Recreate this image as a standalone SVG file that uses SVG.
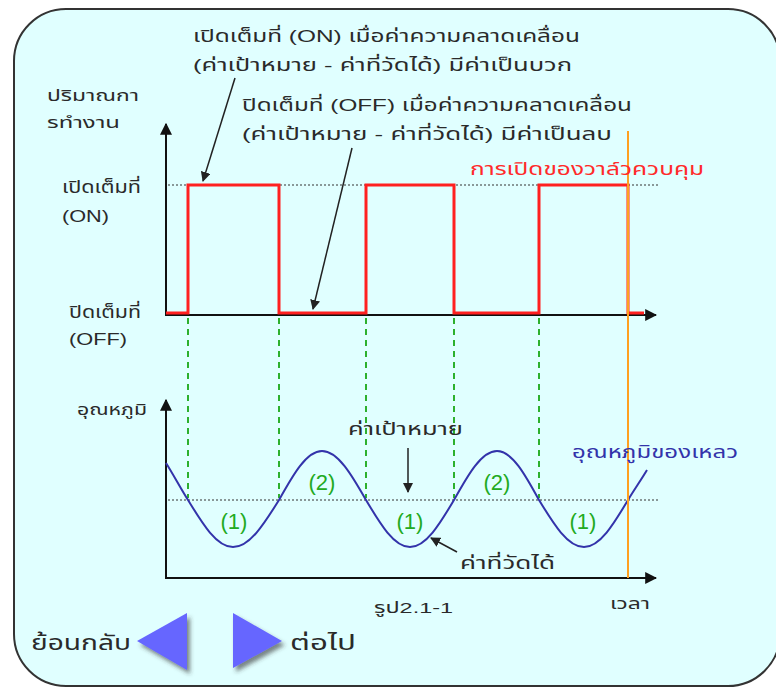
<svg xmlns="http://www.w3.org/2000/svg" width="776" height="687" viewBox="0 0 776 687">
<style>
text{font-family:"Liberation Sans","Noto Sans Thai","Noto Sans","DejaVu Sans",sans-serif;fill:#2a2a2a;}
.t{font-size:17px;}
.s{font-size:15px;}
.red{fill:#ff2a2a;font-size:18px;}
.blue{fill:#3333aa;font-size:18px;}
.g{fill:#22aa22;font-size:22px;text-anchor:middle;}
.axis{stroke:#111;stroke-width:2;fill:none;}
.dot{stroke:#333;stroke-width:1.2;stroke-dasharray:2 2;fill:none;}
.gd{stroke:#2db02d;stroke-width:2;stroke-dasharray:6 5;fill:none;}
.ptr{stroke:#222;stroke-width:1.5;fill:none;}
.btn{fill:#6666ff;}
</style>
<defs>
<marker id="ah" viewBox="0 0 10 10" refX="9" refY="5" markerWidth="12" markerHeight="12" markerUnits="userSpaceOnUse" orient="auto"><path d="M0,0 L10,5 L0,10 z" fill="#111"/></marker>
<marker id="ahs" viewBox="0 0 10 10" refX="9" refY="5" markerWidth="10" markerHeight="10" markerUnits="userSpaceOnUse" orient="auto"><path d="M0,0 L10,5 L0,10 z" fill="#222"/></marker>
<filter id="sh" x="-30%" y="-30%" width="170%" height="170%"><feDropShadow dx="3" dy="4" stdDeviation="2" flood-color="#333" flood-opacity="0.6"/></filter>
</defs>
<rect x="0" y="0" width="776" height="687" fill="#ffffff"/>
<rect id="frame" x="14" y="9" width="766" height="677" rx="52" ry="52" fill="#e0ffff" stroke="#333" stroke-width="2"/>

<g id="connectors">
<line class="axis" x1="166" y1="316" x2="166" y2="124" marker-end="url(#ah)"/>
<line class="axis" x1="166" y1="315" x2="656" y2="315" marker-end="url(#ah)"/>
<line class="dot" x1="168" y1="185" x2="660" y2="185"/>
<line class="gd" x1="188" y1="318" x2="188" y2="498"/>
<line class="gd" x1="279" y1="318" x2="279" y2="498"/>
<line class="gd" x1="366" y1="318" x2="366" y2="498"/>
<line class="gd" x1="454" y1="318" x2="454" y2="498"/>
<line class="gd" x1="539" y1="318" x2="539" y2="498"/>
<path d="M166,313 H188 V185 H279 V313 H366 V185 H454 V313 H539 V185 H628 V313 H644" fill="none" stroke="#ff2020" stroke-width="3"/>
<line class="axis" x1="166" y1="579" x2="166" y2="400" marker-end="url(#ah)"/>
<line class="axis" x1="166" y1="578" x2="656" y2="578" marker-end="url(#ah)"/>
<line class="dot" x1="168" y1="500" x2="660" y2="500"/>
<path d="M166,463 C173,474 181,489 188,500 C202.7,524.1 216.7,547 233,547 C249.6,547 264,524.1 279,500 C293,474.9 306.4,451 322,451 C337.9,451 351.7,474.9 366,500 C380.3,524.1 394.1,547 410,547 C425.9,547 439.7,524.1 454,500 C468,474.9 481.4,451 497,451 C512.2,451 525.3,474.9 539,500 C553.7,524.1 567.7,547 584,547 C599.9,547 613.7,524.1 628,500 C634,490 641,480 647,470" fill="none" stroke="#3333aa" stroke-width="2"/>
<line x1="628" y1="131" x2="628" y2="578" stroke="#ffa020" stroke-width="2"/>
<line class="ptr" x1="235" y1="78" x2="203" y2="181" marker-end="url(#ahs)"/>
<line class="ptr" x1="352" y1="148" x2="313" y2="309" marker-end="url(#ahs)"/>
<line class="ptr" x1="408" y1="448" x2="408" y2="492" marker-end="url(#ahs)"/>
<line class="ptr" x1="457" y1="552" x2="431" y2="538" marker-end="url(#ahs)"/>
</g>

<g id="label-on-note">
<text class="t" x="193" y="42" textLength="387" lengthAdjust="spacingAndGlyphs">เปิดเต็มที่ (ON) เมื่อค่าความคลาดเคลื่อน</text>
<text class="t" x="193" y="71" textLength="379" lengthAdjust="spacingAndGlyphs">(ค่าเป้าหมาย - ค่าที่วัดได้) มีค่าเป็นบวก</text>
</g>
<g id="label-off-note">
<text class="t" x="242" y="111" textLength="390" lengthAdjust="spacingAndGlyphs">ปิดเต็มที่ (OFF) เมื่อค่าความคลาดเคลื่อน</text>
<text class="t" x="242" y="140" textLength="370" lengthAdjust="spacingAndGlyphs">(ค่าเป้าหมาย - ค่าที่วัดได้) มีค่าเป็นลบ</text>
</g>
<g id="label-yaxis-top">
<text class="s" x="47" y="101" textLength="92" lengthAdjust="spacingAndGlyphs">ปริมาณกา</text>
<text class="s" x="47" y="128" textLength="73" lengthAdjust="spacingAndGlyphs">รทำงาน</text>
</g>
<g id="label-valve">
<text class="red" x="470" y="175" textLength="234" lengthAdjust="spacingAndGlyphs">การเปิดของวาล์วควบคุม</text>
</g>
<g id="label-on">
<text class="t" x="62" y="193" textLength="79" lengthAdjust="spacingAndGlyphs">เปิดเต็มที่</text>
<text class="t" x="62" y="222" textLength="47" lengthAdjust="spacingAndGlyphs">(ON)</text>
</g>
<g id="label-off">
<text class="t" x="69" y="318" textLength="72" lengthAdjust="spacingAndGlyphs">ปิดเต็มที่</text>
<text class="t" x="69" y="345" textLength="58" lengthAdjust="spacingAndGlyphs">(OFF)</text>
</g>
<g id="label-temp">
<text class="s" x="77" y="415" textLength="70" lengthAdjust="spacingAndGlyphs">อุณหภูมิ</text>
</g>
<g id="label-setpoint">
<text class="t" x="348" y="435" textLength="115" lengthAdjust="spacingAndGlyphs">ค่าเป้าหมาย</text>
</g>
<g id="label-liquid">
<text class="blue" x="572" y="458" textLength="166" lengthAdjust="spacingAndGlyphs">อุณหภูมิของเหลว</text>
</g>
<g id="label-measured">
<text class="t" x="460" y="569" textLength="95" lengthAdjust="spacingAndGlyphs">ค่าที่วัดได้</text>
</g>
<g id="region-labels">
<text class="g" x="234" y="529">(1)</text>
<text class="g" x="322" y="490">(2)</text>
<text class="g" x="410" y="529">(1)</text>
<text class="g" x="497" y="490">(2)</text>
<text class="g" x="583" y="529">(1)</text>
</g>
<g id="label-time">
<text class="s" x="610" y="609" textLength="40" lengthAdjust="spacingAndGlyphs">เวลา</text>
</g>
<g id="caption">
<text class="s" x="374" y="613" textLength="79" lengthAdjust="spacingAndGlyphs">รูป2.1-1</text>
</g>
<g id="btn-back">
<polygon class="btn" points="137,641 187,613 187,670" filter="url(#sh)"/>
<text x="31" y="650" style="font-size:21px" textLength="100" lengthAdjust="spacingAndGlyphs">ย้อนกลับ</text>
</g>
<g id="btn-next">
<polygon class="btn" points="233,613 282,641 233,668" filter="url(#sh)"/>
<text x="290" y="650" style="font-size:21px" textLength="66" lengthAdjust="spacingAndGlyphs">ต่อไป</text>
</g>
</svg>
